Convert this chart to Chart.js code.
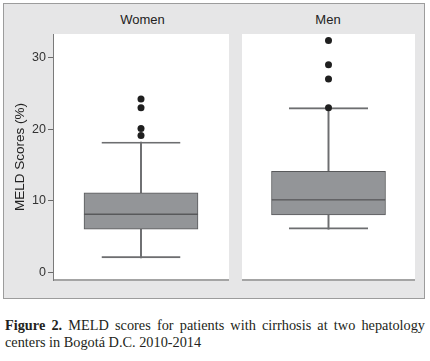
<!DOCTYPE html>
<html>
<head>
<meta charset="utf-8">
<script src="https://cdn.jsdelivr.net/npm/chart.js@4.4.1/dist/chart.umd.min.js"></script>
<style>
  body { margin: 0; background: #fff; width: 430px; height: 361px; position: relative; overflow: hidden;
         font-family: "Liberation Sans", Arial, sans-serif; }
  #frame { position: absolute; left: 3px; top: 3px; width: 420px; height: 294px;
           background: #e6e6e7; border: 1px solid #9c9c9c; }
  .hdr { position: absolute; top: 12px; font-size: 13px; color: #222; text-align: center; line-height: 15px; }
  canvas { position: absolute; }
  #cap { position: absolute; left: 5px; top: 317px; width: 420px; font-family: "Liberation Serif", serif;
         font-size: 14.3px; line-height: 17px; text-align: justify; text-align-last: left; color: #231f20; }
</style>
</head>
<body>
<div id="frame"></div>
<div class="hdr" style="left:53px;width:179px">Women</div>
<div class="hdr" style="left:238px;width:180px">Men</div>
<canvas id="cvWomen" width="229" height="254" style="left:4px;top:30px"></canvas>
<canvas id="cvMen" width="181" height="254" style="left:238px;top:30px"></canvas>
<div id="cap"><b>Figure 2.</b> MELD scores for patients with cirrhosis at two hepatology centers in Bogotá D.C. 2010-2014</div>

<script>
// data
const groups = ["Women", "Men"];
const whiskerLow = [2, 6];
const q1 = [6, 8];
const median = [8.1, 10.1];
const q3 = [11.1, 14.1];
const whiskerHigh = [18.2, 23];
const outliersWomen = [19.1, 20.1, 23, 24.2];
const outliersMen = [23, 27, 29, 32.4];
const yTicks = [0, 10, 20, 30];

const yMin = -1.1;
const yMax = 33.3;

const boxFill = "#939598";
const boxLine = "#58595b";
const whiskerColor = "#6d6e70";

// white plot area + bottom rule
const panelBg = {
  id: "panelBg",
  beforeDraw(chart) {
    const { ctx, chartArea: a } = chart;
    ctx.save();
    ctx.fillStyle = "#fff";
    ctx.fillRect(a.left, a.top, a.right - a.left, a.bottom - a.top);
    ctx.strokeStyle = "#a4a4a4";
    ctx.lineWidth = 2;
    ctx.beginPath();
    ctx.moveTo(a.left, a.bottom);
    ctx.lineTo(a.right, a.bottom);
    ctx.stroke();
    ctx.restore();
  }
};

function makePanel(canvasId, i, outliers, showAxis) {
  const g = groups[i];
  const datasets = [
    // outlier points
    {
      type: "line", showLine: false, order: 0,
      data: outliers.map(v => ({ x: g, y: v })),
      pointRadius: 3.5, pointBackgroundColor: "#1f1f1f", pointBorderWidth: 0
    },
    // box: lower and upper halves share the median edge
    {
      data: [[q1[i], median[i]]], order: 1, barThickness: 114,
      backgroundColor: boxFill, borderColor: boxLine, borderWidth: 1, borderSkipped: false
    },
    {
      data: [[median[i], q3[i]]], order: 1, barThickness: 114,
      backgroundColor: boxFill, borderColor: boxLine, borderWidth: 1, borderSkipped: false
    },
    // whisker stems
    {
      data: [[q3[i], whiskerHigh[i]]], order: 3, barThickness: 1.3,
      backgroundColor: whiskerColor, borderWidth: 0
    },
    {
      data: [[whiskerLow[i], q1[i]]], order: 3, barThickness: 1.3,
      backgroundColor: whiskerColor, borderWidth: 0
    },
    // whisker caps
    {
      data: [[q3[i], whiskerHigh[i]]], order: 2, barThickness: 79,
      backgroundColor: "rgba(0,0,0,0)", borderColor: whiskerColor,
      borderWidth: { top: 1.3, bottom: 0, left: 0, right: 0 }, borderSkipped: false
    },
    {
      data: [[whiskerLow[i], q1[i]]], order: 2, barThickness: 79,
      backgroundColor: "rgba(0,0,0,0)", borderColor: whiskerColor,
      borderWidth: { top: 0, bottom: 1.3, left: 0, right: 0 }, borderSkipped: false
    }
  ];

  return new Chart(document.getElementById(canvasId), {
    type: "bar",
    data: { labels: [g], datasets: datasets },
    options: {
      responsive: false,
      animation: false,
      layout: { padding: { top: 2, bottom: 3, right: 1, left: 0 } },
      datasets: { bar: { grouped: false } },
      plugins: { legend: { display: false }, tooltip: { enabled: false } },
      scales: {
        x: { display: false },
        y: {
          display: showAxis,
          min: yMin, max: yMax,
          afterBuildTicks: s => { s.ticks = yTicks.map(v => ({ value: v })); },
          afterFit: s => {
            s.width = showAxis ? 49 : 0;
            s.paddingTop = 0;
            s.paddingBottom = 0;
          },
          border: { color: "#7a7a7a", width: 1 },
          grid: { drawOnChartArea: false, tickLength: 5, color: "#6a6a6a" },
          ticks: { color: "#333", padding: 2, font: { family: "Liberation Sans", size: 12.5 } },
          title: {
            display: true, text: "MELD Scores (%)", color: "#222",
            padding: { top: 8, bottom: 0 },
            font: { family: "Liberation Sans", size: 13.5 }
          }
        }
      }
    },
    plugins: [panelBg]
  });
}

makePanel("cvWomen", 0, outliersWomen, true);
makePanel("cvMen", 1, outliersMen, false);
</script>
</body>
</html>
